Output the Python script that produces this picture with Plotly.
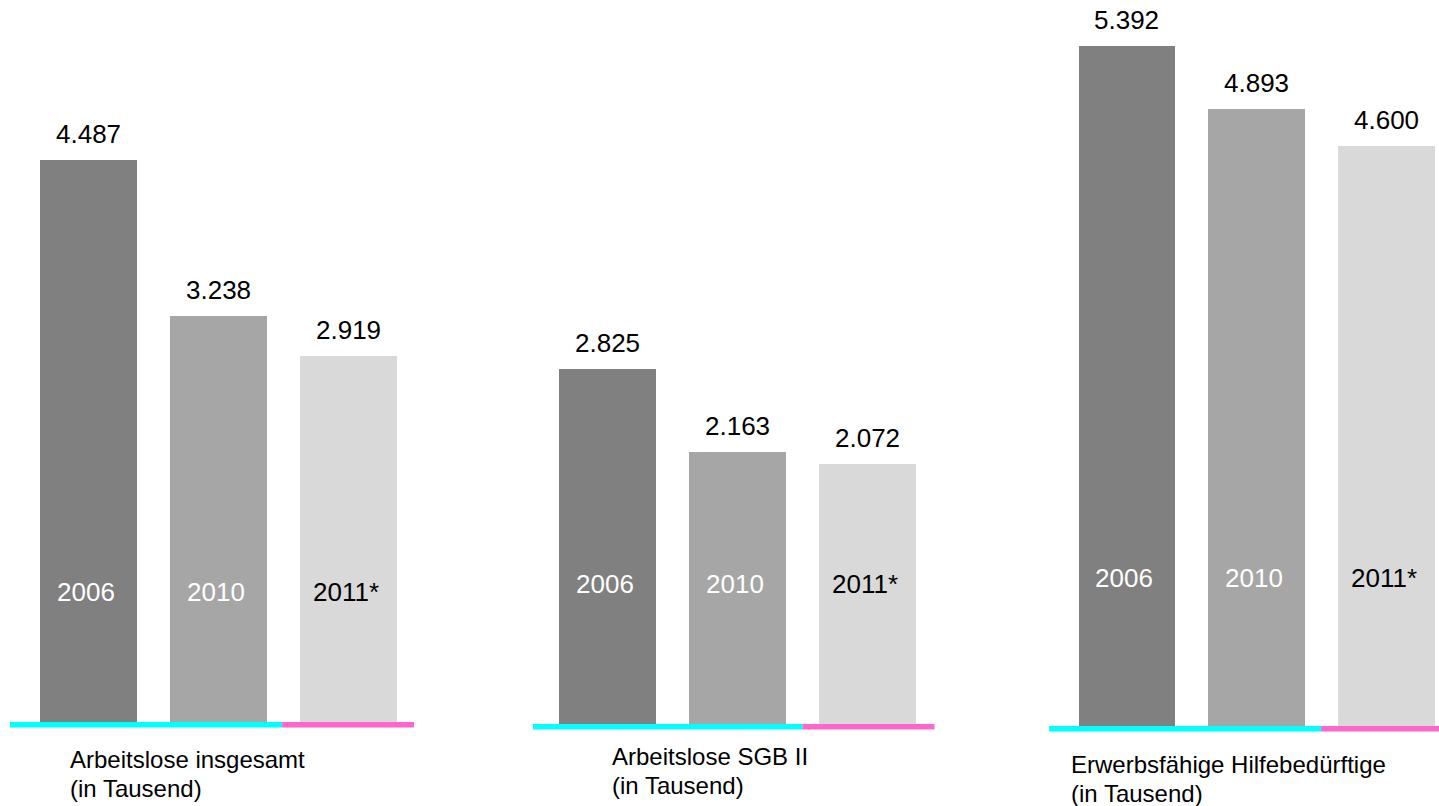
import plotly.graph_objects as go

# ---- data ----
years = ["2006", "2010", "2011*"]
group_names = ["Arbeitslose insgesamt", "Arbeitslose SGB II", "Erwerbsfähige Hilfebedürftige"]
unit_label = "(in Tausend)"
values_g1 = [4487, 3238, 2919]
values_g2 = [2825, 2163, 2072]
values_g3 = [5392, 4893, 4600]
all_values = [values_g1, values_g2, values_g3]

# ---- styling / layout (pixels) ----
W, H = 1439, 806
bar_colors = ["#808080", "#A6A6A6", "#D9D9D9"]
year_colors = ["white", "white", "black"]
CYAN = "#00FFFF"
MAGENTA = "#FF66CC"
FONT = "Liberation Sans, Arial, sans-serif"

geo = [
    dict(c0=88.5, pitch=130.0, base=722, scale=0.12525, xr=(-0.65, 2.6), cy0=-0.604, split=1.49, mag1=2.504,
         year_off=130, lab_x=68, lab_top=744),
    dict(c0=607.5, pitch=130.0, base=724, scale=0.1257, xr=(-0.65, 2.6), cy0=-0.573, split=1.5, mag1=2.515,
         year_off=140, lab_x=610, lab_top=741),
    dict(c0=1127.0, pitch=129.75, base=726, scale=0.1261, xr=(-0.65, 2.405), cy0=-0.6, split=1.496, mag1=2.405,
         year_off=148, lab_x=1069, lab_top=749),
]

fig = go.Figure()
layout = dict(width=W, height=H, margin=dict(l=0, r=0, t=0, b=0),
              paper_bgcolor="white", plot_bgcolor="white", showlegend=False,
              font=dict(family=FONT, color="black"))
shapes = []
annotations = []
pad = 80

for gi, (vals, g) in enumerate(zip(all_values, geo)):
    sfx = "" if gi == 0 else str(gi + 1)
    xa, ya = "x" + sfx, "y" + sfx
    fig.add_trace(go.Bar(x=[0, 1, 2], y=vals, width=0.746, marker=dict(color=bar_colors, line=dict(width=0)),
                         xaxis=xa, yaxis=ya, hoverinfo="skip"))
    x0px = g["c0"] + g["xr"][0] * g["pitch"]
    x1px = g["c0"] + g["xr"][1] * g["pitch"]
    ymax = g["base"] / g["scale"]
    ybot_px = g["base"] + pad * g["scale"]
    layout["xaxis" + sfx] = dict(domain=[max(0, x0px / W), min(1, x1px / W)], range=list(g["xr"]),
                                 visible=False, anchor=ya)
    layout["yaxis" + sfx] = dict(domain=[1 - ybot_px / H, 1.0], range=[-pad, ymax],
                                 visible=False, anchor=xa)
    th = 5.5 / g["scale"]
    shapes.append(dict(type="rect", xref=xa, yref=ya, x0=g["cy0"], x1=g["split"], y0=-th, y1=0,
                       fillcolor=CYAN, line=dict(width=0), layer="above"))
    shapes.append(dict(type="rect", xref=xa, yref=ya, x0=g["split"], x1=g["mag1"], y0=-th, y1=0,
                       fillcolor=MAGENTA, line=dict(width=0), layer="above"))
    for i, v in enumerate(vals):
        annotations.append(dict(xref=xa, yref=ya, x=i, y=v, yshift=26, yanchor="middle", xanchor="center",
                                text=f"{v:,}".replace(",", "."), showarrow=False,
                                font=dict(size=26, family=FONT, color="black")))
        annotations.append(dict(xref=xa, yref=ya, x=i - 0.02, y=g["year_off"] / g["scale"], yanchor="middle",
                                xanchor="center", text=years[i], showarrow=False,
                                font=dict(size=26, family=FONT, color=year_colors[i])))
    annotations.append(dict(xref="paper", yref="paper", x=g["lab_x"] / W, y=1 - g["lab_top"] / H,
                            xanchor="left", yanchor="top", align="left", text=group_names[gi],
                            showarrow=False, font=dict(size=24, family=FONT, color="black")))
    annotations.append(dict(xref="paper", yref="paper", x=g["lab_x"] / W, y=1 - (g["lab_top"] + 29) / H,
                            xanchor="left", yanchor="top", align="left", text=unit_label,
                            showarrow=False, font=dict(size=24, family=FONT, color="black")))

layout["shapes"] = shapes
layout["annotations"] = annotations
layout["bargap"] = 0
fig.update_layout(**layout)
fig.write_html("out.html", config={"displayModeBar": False, "staticPlot": True},
               post_script="document.body.style.margin='0';document.body.style.overflow='hidden';")
